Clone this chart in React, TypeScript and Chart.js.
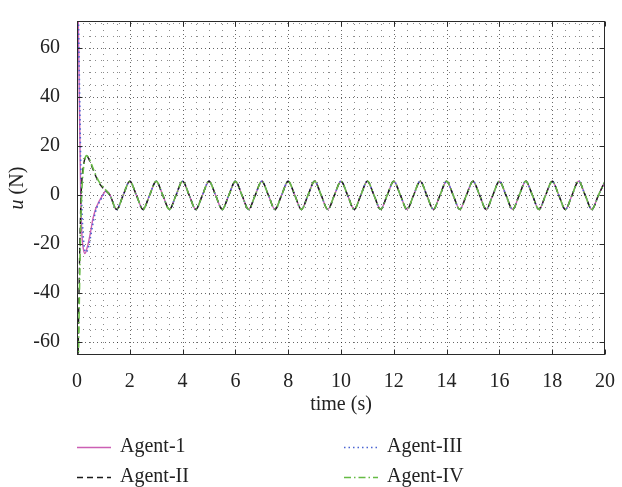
import React, { useEffect, useRef } from 'react';
import { Chart, registerables } from 'chart.js';

Chart.register(...registerables);

const FONT = '"Liberation Serif", "Times New Roman", serif';

const X_TICKS = [0, 2, 4, 6, 8, 10, 12, 14, 16, 18, 20];
const Y_TICKS = [-60, -40, -20, 0, 20, 40, 60];
const X_MIN = 0;
const X_MAX = 20;
const Y_MIN = -65.5;
const Y_MAX = 71;

// transient part, Agent-1
const agent1T = [0, 0.05, 0.1, 0.14, 0.18, 0.24, 0.3, 0.4, 0.5, 0.6, 0.7, 0.8, 0.9, 1.0, 1.1];
const agent1U = [110, 70, 30, 0, -15, -22, -24, -21, -16, -10, -6, -3.5, -1.5, 0.3, 1.6];

// transient part, Agent-II
const agent2T = [0, 0.05, 0.1, 0.15, 0.2, 0.28, 0.36, 0.45, 0.6, 0.8, 1.0];
const agent2U = [-110, -60, -25, -2, 8, 14, 16, 14.5, 10.5, 5.5, 2.5];

// transient part, Agent-III
const agent3T = [0, 0.05, 0.1, 0.15, 0.2, 0.26, 0.33, 0.42, 0.5, 0.6, 0.7, 0.8, 0.9, 1.0, 1.1];
const agent3U = [110, 75, 40, 8, -10, -20, -23.5, -22, -18, -12, -7, -4, -2, 0, 1.5];

// transient part, Agent-IV
const agent4T = [0, 0.05, 0.1, 0.15, 0.2, 0.28, 0.36, 0.45, 0.6, 0.8, 1.0];
const agent4U = [-110, -70, -35, -8, 5, 13.5, 16, 15, 11, 6, 3];

// steady oscillation shared by all agents
const steadyT = [
  1.25, 1.5, 1.75, 2, 2.25, 2.5, 2.75, 3, 3.25, 3.5, 3.75, 4, 4.25, 4.5, 4.75, 5,
  5.25, 5.5, 5.75, 6, 6.25, 6.5, 6.75, 7, 7.25, 7.5, 7.75, 8, 8.25, 8.5, 8.75, 9,
  9.25, 9.5, 9.75, 10, 10.25, 10.5, 10.75, 11, 11.25, 11.5, 11.75, 12, 12.25, 12.5, 12.75, 13,
  13.25, 13.5, 13.75, 14, 14.25, 14.5, 14.75, 15, 15.25, 15.5, 15.75, 16, 16.25, 16.5, 16.75, 17,
  17.25, 17.5, 17.75, 18, 18.25, 18.5, 18.75, 19, 19.25, 19.5, 19.75, 20,
];
const steadyU = [
  -0.2, -6, -0.2, 5.5, -0.2, -6, -0.2, 5.5, -0.2, -6, -0.2, 5.5, -0.2, -6, -0.2, 5.5,
  -0.2, -6, -0.2, 5.5, -0.2, -6, -0.2, 5.5, -0.2, -6, -0.2, 5.5, -0.2, -6, -0.2, 5.5,
  -0.2, -6, -0.2, 5.5, -0.2, -6, -0.2, 5.5, -0.2, -6, -0.2, 5.5, -0.2, -6, -0.2, 5.5,
  -0.2, -6, -0.2, 5.5, -0.2, -6, -0.2, 5.5, -0.2, -6, -0.2, 5.5, -0.2, -6, -0.2, 5.5,
  -0.2, -6, -0.2, 5.5, -0.2, -6, -0.2, 5.5, -0.2, -6, -0.2, 5.5,
];

const SERIES_NAMES = ['Agent-1', 'Agent-II', 'Agent-III', 'Agent-IV'];

function toPoints(ts: number[], us: number[]) {
  const a = ts.map((t, i) => ({ x: t, y: us[i] }));
  const b = steadyT.map((t, i) => ({ x: t, y: steadyU[i] }));
  return a.concat(b);
}

const STYLES = [
  { color: '#cc5fb4', dash: [] as number[], width: 1.4, order: 4 },
  { color: '#1a1a1a', dash: [6, 4], width: 1.4, order: 2 },
  { color: '#4a64d2', dash: [1.5, 3], width: 1.6, order: 3 },
  { color: '#66bb44', dash: [7, 3, 1.5, 3], width: 1.6, order: 1 },
];

const framePlugin = {
  id: 'matlabFrame',
  beforeDatasetsDraw(chart: any) {
    const { ctx, chartArea: a, scales } = chart;
    const x = scales.x;
    const y = scales.y;
    ctx.save();
    ctx.lineWidth = 1;
    // minor grid
    ctx.strokeStyle = 'rgba(0,0,0,0.45)';
    ctx.setLineDash([1, 5]);
    for (let k = 1; k < 40; k++) {
      if (k % 4 === 0) continue;
      const px = Math.round(x.getPixelForValue(k * 0.5)) + 0.5;
      ctx.beginPath();
      ctx.moveTo(px, a.bottom);
      ctx.lineTo(px, a.top);
      ctx.stroke();
    }
    for (let k = -13; k <= 14; k++) {
      if (k % 4 === 0) continue;
      const v = k * 5;
      if (v <= Y_MIN || v >= Y_MAX) continue;
      const py = Math.round(y.getPixelForValue(v)) + 0.5;
      ctx.beginPath();
      ctx.moveTo(a.left, py);
      ctx.lineTo(a.right, py);
      ctx.stroke();
    }
    // major grid
    ctx.strokeStyle = 'rgba(0,0,0,0.6)';
    ctx.setLineDash([1, 3]);
    X_TICKS.forEach((v) => {
      if (v === X_MIN || v === X_MAX) return;
      const px = Math.round(x.getPixelForValue(v)) + 0.5;
      ctx.beginPath();
      ctx.moveTo(px, a.bottom);
      ctx.lineTo(px, a.top);
      ctx.stroke();
    });
    Y_TICKS.forEach((v) => {
      const py = Math.round(y.getPixelForValue(v)) + 0.5;
      ctx.beginPath();
      ctx.moveTo(a.left, py);
      ctx.lineTo(a.right, py);
      ctx.stroke();
    });
    ctx.restore();
  },
  afterDatasetsDraw(chart: any) {
    const { ctx, chartArea: a, scales } = chart;
    const x = scales.x;
    const y = scales.y;
    ctx.save();
    ctx.setLineDash([]);
    ctx.strokeStyle = '#2a2a2a';
    ctx.lineWidth = 1;
    const L = Math.round(a.left) + 0.5;
    const R = Math.round(a.right) - 0.5;
    const T = Math.round(a.top) + 0.5;
    const B = Math.round(a.bottom) - 0.5;
    ctx.strokeRect(L, T, R - L, B - T);
    // ticks
    X_TICKS.forEach((v) => {
      const px = Math.round(x.getPixelForValue(v)) + 0.5;
      ctx.beginPath();
      ctx.moveTo(px, B);
      ctx.lineTo(px, B - 5);
      ctx.moveTo(px, T);
      ctx.lineTo(px, T + 5);
      ctx.stroke();
    });
    Y_TICKS.forEach((v) => {
      const py = Math.round(y.getPixelForValue(v)) + 0.5;
      ctx.beginPath();
      ctx.moveTo(L, py);
      ctx.lineTo(L + 5, py);
      ctx.moveTo(R, py);
      ctx.lineTo(R - 5, py);
      ctx.stroke();
    });
    ctx.restore();
  },
  afterDraw(chart: any) {
    const { ctx, chartArea: a } = chart;
    ctx.save();
    ctx.fillStyle = '#222';
    // y title
    ctx.translate(18, (a.top + a.bottom) / 2);
    ctx.rotate(-Math.PI / 2);
    ctx.textBaseline = 'middle';
    ctx.font = `italic 20px ${FONT}`;
    const uW = ctx.measureText('u').width;
    ctx.font = `20px ${FONT}`;
    const rest = ' (N)';
    const rW = ctx.measureText(rest).width;
    const start = -(uW + rW) / 2;
    ctx.font = `italic 20px ${FONT}`;
    ctx.textAlign = 'left';
    ctx.fillText('u', start, 0);
    ctx.font = `20px ${FONT}`;
    ctx.fillText(rest, start + uW, 0);
    ctx.restore();

    // legend
    ctx.save();
    const cols = [77, 344];
    const rows = [447, 477];
    const order = [
      [0, 0, 0],
      [1, 0, 1],
      [2, 1, 0],
      [3, 1, 1],
    ];
    order.forEach(([i, c, r]) => {
      const ds = chart.data.datasets[i];
      const x0 = cols[c];
      const yy = rows[r] + 0.5;
      ctx.strokeStyle = ds.borderColor;
      ctx.lineWidth = ds.borderWidth;
      ctx.setLineDash(ds.borderDash || []);
      ctx.beginPath();
      ctx.moveTo(x0, yy);
      ctx.lineTo(x0 + 34, yy);
      ctx.stroke();
      ctx.setLineDash([]);
      ctx.fillStyle = '#222';
      ctx.font = `20px ${FONT}`;
      ctx.textBaseline = 'middle';
      ctx.textAlign = 'left';
      ctx.fillText(ds.label, x0 + 43, rows[r]);
    });
    ctx.restore();
  },
};

export default function App() {
  const ref = useRef<HTMLCanvasElement | null>(null);
  useEffect(() => {
    if (!ref.current) return;
    const sets = [
      toPoints(agent1T, agent1U),
      toPoints(agent2T, agent2U),
      toPoints(agent3T, agent3U),
      toPoints(agent4T, agent4U),
    ];
    const chart = new Chart(ref.current, {
      type: 'line',
      data: {
        datasets: sets.map((d, i) => ({
          label: SERIES_NAMES[i],
          data: d,
          borderColor: STYLES[i].color,
          borderDash: STYLES[i].dash,
          borderWidth: STYLES[i].width,
          order: STYLES[i].order,
          pointRadius: 0,
          fill: false,
          cubicInterpolationMode: 'monotone' as const,
        })),
      },
      options: {
        animation: false,
        responsive: false,
        devicePixelRatio: 1,
        parsing: false as any,
        layout: { padding: { left: 0, right: 11, top: 5, bottom: 0 } },
        plugins: { legend: { display: false }, tooltip: { enabled: false } },
        scales: {
          x: {
            type: 'linear',
            min: X_MIN,
            max: X_MAX,
            grid: { display: false },
            border: { display: false },
            afterBuildTicks: (s: any) => {
              s.ticks = X_TICKS.map((v) => ({ value: v }));
            },
            afterFit: (s: any) => {
              s.height = 132;
            },
            ticks: {
              font: { family: FONT, size: 20 },
              color: '#222',
              padding: 7,
              maxRotation: 0,
              autoSkip: false,
            },
            title: {
              display: true,
              text: 'time (s)',
              font: { family: FONT, size: 20 },
              color: '#222',
              padding: { top: 0, bottom: 70 },
            },
          },
          y: {
            type: 'linear',
            min: Y_MIN,
            max: Y_MAX,
            grid: { display: false },
            border: { display: false },
            afterBuildTicks: (s: any) => {
              s.ticks = Y_TICKS.map((v) => ({ value: v }));
            },
            afterFit: (s: any) => {
              s.width = 77;
            },
            ticks: {
              font: { family: FONT, size: 20 },
              color: '#222',
              padding: 9,
              autoSkip: false,
            },
          },
        },
      },
      plugins: [framePlugin],
    });
    return () => chart.destroy();
  }, []);
  return (
    <div style={{ position: 'fixed', left: 0, top: 0, width: 622, height: 487, background: '#fff' }}>
      <canvas ref={ref} width={622} height={487} style={{ width: 622, height: 487, display: 'block' }} />
    </div>
  );
}
